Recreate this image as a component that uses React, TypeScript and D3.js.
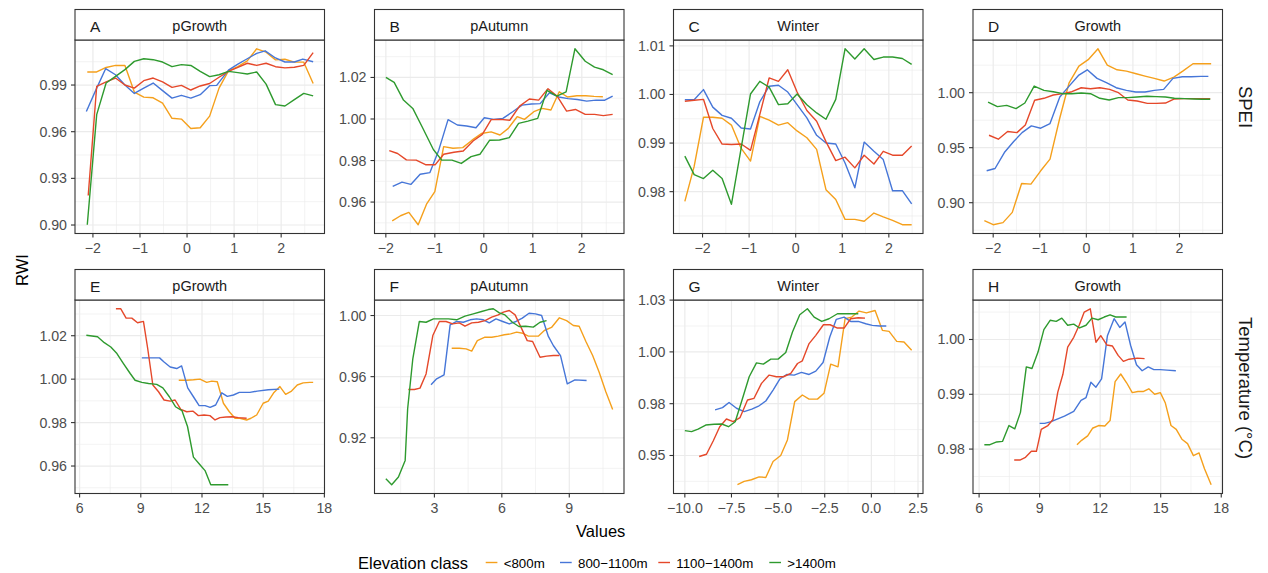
import React from 'react';
import * as d3 from 'd3';

type P = [number, number];

// ---------- legend / series ----------
const elevationClasses = ['<800m', '800\u22121100m', '1100\u22121400m', '>1400m'];
const classColors = ['#F5A01C', '#4676D8', '#E5482A', '#2E9A2E'];

// ---------- panel A : SPEI pGrowth ----------
const aLow: P[] = [[-2.12,0.9984],[-1.92,0.9984],[-1.72,1.0013],[-1.52,1.0026],[-1.32,1.0026],[-1.12,0.9855],[-0.92,0.9822],[-0.72,0.9818],[-0.52,0.9784],[-0.32,0.9686],[-0.12,0.9681],[0.08,0.9621],[0.28,0.9625],[0.48,0.970],[0.68,0.988],[0.88,0.9991],[1.08,1.0019],[1.28,1.0055],[1.48,1.0133],[1.68,1.0111],[1.88,1.0062],[2.08,1.0066],[2.28,1.0047],[2.48,1.0047],[2.68,0.991]];
const aMidLow: P[] = [[-2.14,0.973],[-1.92,0.988],[-1.73,1.0005],[-1.52,0.9966],[-1.32,0.990],[-1.12,0.9846],[-0.92,0.988],[-0.72,0.9913],[-0.52,0.9864],[-0.32,0.9816],[-0.12,0.9834],[0.08,0.9816],[0.28,0.9838],[0.48,0.9896],[0.63,0.9898],[0.88,0.9996],[1.08,1.0035],[1.28,1.0069],[1.48,1.0104],[1.66,1.012],[1.88,1.0074],[2.08,1.0048],[2.28,1.0048],[2.46,1.0067],[2.68,1.005]];
const aMidHigh: P[] = [[-2.1,0.919],[-1.92,0.9892],[-1.72,0.992],[-1.52,0.9945],[-1.32,0.990],[-1.12,0.988],[-0.92,0.9928],[-0.72,0.9945],[-0.52,0.992],[-0.32,0.9885],[-0.12,0.9898],[0.08,0.9868],[0.28,0.9894],[0.48,0.991],[0.68,0.995],[0.88,0.9988],[1.08,1.0014],[1.28,1.004],[1.48,1.0026],[1.68,1.004],[1.88,1.0018],[2.08,1.001],[2.28,1.0014],[2.48,1.0026],[2.68,1.0108]];
const aHigh: P[] = [[-2.12,0.9002],[-1.92,0.971],[-1.72,0.9913],[-1.52,0.9956],[-1.32,0.9999],[-1.12,1.0052],[-0.92,1.0069],[-0.72,1.0063],[-0.52,1.0048],[-0.32,1.0018],[-0.12,1.0031],[0.08,1.0026],[0.28,0.9988],[0.48,0.9954],[0.68,0.9966],[0.88,0.9988],[1.08,0.998],[1.28,0.9971],[1.48,0.9984],[1.68,0.9906],[1.88,0.9774],[2.08,0.9765],[2.28,0.9806],[2.48,0.9846],[2.68,0.983]];

// ---------- panel B : SPEI pAutumn ----------
const bLow: P[] = [[-1.87,0.9509],[-1.7,0.9534],[-1.53,0.955],[-1.34,0.9491],[-1.17,0.959],[-1.0,0.965],[-0.82,0.9867],[-0.63,0.9859],[-0.43,0.9862],[-0.24,0.9898],[-0.05,0.993],[0.15,0.9938],[0.33,0.9923],[0.5,0.9955],[0.68,1.0011],[0.83,0.9998],[1.02,1.0035],[1.19,1.0051],[1.37,1.0043],[1.54,1.0131],[1.71,1.0106],[1.9,1.0112],[2.08,1.0112],[2.25,1.0109],[2.43,1.0107]];
const bMidLow: P[] = [[-1.86,0.9675],[-1.67,0.9696],[-1.49,0.9685],[-1.30,0.9734],[-1.1,0.9742],[-0.92,0.985],[-0.73,0.9997],[-0.54,0.9971],[-0.35,0.9966],[-0.16,0.9958],[0.01,1.0006],[0.2,0.9998],[0.39,1.0003],[0.59,1.0035],[0.78,1.0067],[0.97,1.0072],[1.15,1.0074],[1.34,1.0126],[1.53,1.0106],[1.72,1.0098],[1.91,1.0094],[2.1,1.0086],[2.29,1.0091],[2.46,1.009],[2.63,1.011]];
const bMidHigh: P[] = [[-1.93,0.9848],[-1.76,0.9834],[-1.58,0.9803],[-1.38,0.9802],[-1.19,0.978],[-0.99,0.978],[-0.82,0.983],[-0.61,0.984],[-0.42,0.9846],[-0.22,0.9894],[-0.03,0.9926],[0.15,0.9997],[0.34,0.9998],[0.53,0.9994],[0.73,1.0062],[0.93,1.0096],[1.12,1.0091],[1.31,1.0146],[1.50,1.0109],[1.69,1.0038],[1.87,1.0046],[2.07,1.0022],[2.26,1.0022],[2.44,1.0016],[2.63,1.0022]];
const bHigh: P[] = [[-2.0,1.02],[-1.83,1.0176],[-1.64,1.0091],[-1.45,1.0051],[-1.25,0.9958],[-1.03,0.9853],[-0.86,0.9802],[-0.65,0.9802],[-0.46,0.9786],[-0.26,0.9819],[-0.08,0.983],[0.12,0.9898],[0.32,0.9899],[0.52,0.991],[0.71,0.9979],[0.90,0.999],[1.10,1.0003],[1.29,1.0138],[1.49,1.011],[1.68,1.0131],[1.86,1.0338],[2.07,1.0278],[2.26,1.025],[2.44,1.0237],[2.63,1.0214]];

// ---------- panel C : SPEI Winter ----------
const cX = [-2.38,-2.18,-1.98,-1.78,-1.58,-1.38,-1.17,-0.97,-0.77,-0.57,-0.37,-0.17,0.03,0.24,0.45,0.65,0.86,1.06,1.27,1.47,1.68,1.88,2.08,2.29,2.49];
const cLowY = [0.978,0.9852,0.9953,0.9953,0.9951,0.9937,0.9889,0.9863,0.9955,0.9947,0.9937,0.9942,0.9925,0.9911,0.9887,0.9804,0.9784,0.9743,0.9743,0.9739,0.9756,0.9748,0.9741,0.9732,0.9732];
const cMidLowY = [0.9989,0.9989,1.001,0.9974,0.9957,0.9951,0.9931,0.9929,0.9985,1.0017,1.0019,1.0005,0.9979,0.9952,0.9916,0.99,0.9898,0.9859,0.9808,0.9902,0.9883,0.9866,0.9802,0.9802,0.9775];
const cMidHighY = [0.9986,0.9988,0.999,0.993,0.9898,0.9897,0.9898,0.9885,0.9959,1.0034,1.0027,1.0051,1.0005,0.9967,0.9945,0.9903,0.9864,0.9871,0.9849,0.9875,0.9857,0.9883,0.9875,0.9875,0.9894];
const cHighY = [0.9873,0.9835,0.9827,0.9844,0.9827,0.9774,0.989,1.0001,1.0027,1.0015,0.9979,0.9981,1.0001,0.9979,0.9962,0.9949,0.999,1.0094,1.0073,1.0094,1.0072,1.0077,1.0077,1.0074,1.0062];

// ---------- panel D : SPEI Growth ----------
const dLow: P[] = [[-2.19,0.8837],[-2.0,0.880],[-1.79,0.8819],[-1.59,0.8912],[-1.39,0.9175],[-1.19,0.9169],[-0.98,0.929],[-0.78,0.9396],[-0.57,0.977],[-0.37,1.009],[-0.16,1.0242],[0.04,1.030],[0.25,1.0399],[0.45,1.0251],[0.66,1.0208],[0.86,1.0196],[1.07,1.0172],[1.26,1.0151],[1.46,1.013],[1.67,1.0106],[1.88,1.0142],[2.07,1.0196],[2.29,1.0263],[2.49,1.0263],[2.68,1.0263]];
const dMidLow: P[] = [[-2.14,0.929],[-1.96,0.9311],[-1.76,0.9456],[-1.56,0.9556],[-1.38,0.9637],[-1.18,0.9698],[-0.98,0.9677],[-0.78,0.9719],[-0.57,0.9961],[-0.37,1.006],[-0.16,1.016],[0.02,1.0208],[0.23,1.013],[0.43,1.0091],[0.64,1.0045],[0.86,1.0021],[1.06,1.0006],[1.26,1.0006],[1.46,1.0021],[1.66,1.003],[1.86,1.013],[2.06,1.0145],[2.25,1.0145],[2.46,1.0148],[2.62,1.0148]];
const dMidHigh: P[] = [[-2.09,0.9613],[-1.89,0.9577],[-1.69,0.9647],[-1.49,0.9637],[-1.31,0.9707],[-1.11,0.9931],[-0.91,0.9949],[-0.71,0.9979],[-0.5,0.9991],[-0.31,1.0009],[-0.11,1.0045],[0.09,1.0036],[0.29,1.0045],[0.5,1.003],[0.69,1.0],[0.89,0.9934],[1.09,0.9924],[1.31,0.9903],[1.5,0.9903],[1.7,0.9906],[1.89,0.9943],[2.09,0.9946],[2.3,0.9946],[2.48,0.9946],[2.66,0.9946]];
const dHigh: P[] = [[-2.11,0.9915],[-1.91,0.9873],[-1.71,0.9885],[-1.51,0.9855],[-1.32,0.9906],[-1.12,1.006],[-0.91,1.0021],[-0.71,1.0009],[-0.51,0.9991],[-0.31,0.9991],[-0.11,0.9997],[0.09,0.9991],[0.29,0.9949],[0.49,0.9934],[0.69,0.9955],[0.89,0.9955],[1.09,0.9961],[1.3,0.9967],[1.5,0.9964],[1.7,0.9961],[1.89,0.9949],[2.11,0.9946],[2.31,0.9943],[2.48,0.9941],[2.66,0.994]];

// ---------- panel E : Temperature pGrowth ----------
const eLow: P[] = [[10.86,0.9995],[11.25,0.9995],[11.58,0.9997],[11.9,1.0],[12.23,0.9985],[12.48,0.9991],[12.75,0.9988],[13.05,0.9889],[13.34,0.985],[13.62,0.982],[13.86,0.982],[14.19,0.9812],[14.4,0.982],[14.68,0.9835],[15.0,0.9889],[15.25,0.9899],[15.53,0.9939],[15.82,0.9966],[16.1,0.993],[16.39,0.9945],[16.67,0.9973],[16.96,0.9983],[17.29,0.9985],[17.45,0.9985]];
const eMidLow: P[] = [[9.05,1.0098],[9.38,1.0098],[9.92,1.0098],[10.14,1.0079],[10.44,1.0056],[10.76,1.0049],[11.0,1.0061],[11.3,0.996],[11.58,0.9919],[11.86,0.9878],[12.15,0.9878],[12.4,0.987],[12.67,0.9881],[12.97,0.9937],[13.24,0.9921],[13.54,0.9927],[13.83,0.9939],[14.35,0.9939],[14.71,0.9945],[15.25,0.9951],[15.79,0.9954]];
const eMidHigh: P[] = [[7.78,1.0324],[8.02,1.0324],[8.28,1.0281],[8.56,1.0281],[8.84,1.026],[9.13,1.0266],[9.34,1.014],[9.59,0.9973],[9.87,0.9942],[10.14,0.9904],[10.44,0.9899],[10.68,0.9904],[10.96,0.9861],[11.25,0.985],[11.55,0.9853],[11.82,0.9832],[12.1,0.9835],[12.39,0.9832],[12.64,0.9812],[12.88,0.9823],[13.18,0.9826],[13.49,0.9827],[13.78,0.9823],[14.19,0.982]];
const eHigh: P[] = [[6.33,1.0202],[6.88,1.0195],[7.21,1.0168],[7.53,1.0148],[7.83,1.0118],[8.15,1.0072],[8.48,1.0026],[8.72,0.9995],[9.05,0.9985],[9.38,0.998],[9.78,0.9976],[10.08,0.996],[10.4,0.9919],[10.7,0.9873],[11.02,0.9855],[11.29,0.9782],[11.58,0.9641],[11.9,0.9606],[12.15,0.9579],[12.43,0.9514],[12.88,0.9514],[13.29,0.9514]];

// ---------- panel F : Temperature pAutumn ----------
const fLow: P[] = [[3.77,0.9786],[4.11,0.9786],[4.41,0.9782],[4.66,0.9767],[4.91,0.9836],[5.25,0.9858],[5.55,0.9858],[5.84,0.9865],[6.11,0.9874],[6.39,0.988],[6.66,0.9891],[6.93,0.9884],[7.18,0.9865],[7.62,0.9865],[7.89,0.9902],[8.21,0.9922],[8.56,0.9985],[8.88,0.9967],[9.18,0.9935],[9.44,0.993],[9.74,0.983],[10.04,0.9738],[10.33,0.9629],[10.63,0.9499],[10.93,0.9385]];
const fMidLow: P[] = [[2.85,0.9547],[3.1,0.9586],[3.43,0.9612],[3.7,0.9939],[3.99,0.9961],[4.29,0.9956],[4.59,0.9972],[4.88,0.9978],[5.18,0.9972],[5.44,0.9952],[5.74,0.9978],[6.04,0.9961],[6.33,0.9945],[6.63,0.9961],[6.91,0.9983],[7.21,1.0015],[7.5,1.0011],[7.77,1.0],[8.07,0.9863],[8.29,0.9804],[8.61,0.9738],[8.91,0.9553],[9.25,0.9579],[9.77,0.9575]];
const fMidHigh: P[] = [[1.84,0.9516],[2.11,0.9516],[2.36,0.9525],[2.63,0.9618],[2.93,0.9869],[3.22,0.9961],[3.52,0.9961],[3.81,0.9945],[4.11,0.9952],[4.36,0.993],[4.66,0.9952],[4.96,0.9956],[5.25,0.9967],[5.55,0.9989],[5.84,1.0004],[6.07,1.0022],[6.33,1.0033],[6.59,1.0004],[6.85,0.9924],[7.13,0.9836],[7.37,0.983],[7.7,0.9727],[7.99,0.9734],[8.29,0.9738],[8.56,0.9738]];
const fHigh: P[] = [[0.84,0.8932],[1.1,0.8893],[1.4,0.8943],[1.7,0.9052],[1.81,0.939],[2.04,0.9717],[2.33,0.9961],[2.63,0.9956],[2.96,0.9978],[3.28,0.9978],[3.62,0.9978],[3.99,0.9972],[4.36,0.9996],[4.73,1.0011],[5.1,1.0026],[5.4,1.0039],[5.62,1.0044],[5.89,1.0017],[6.14,1.0004],[6.47,0.9956],[6.76,0.9928],[7.06,0.993],[7.4,0.9924],[7.7,0.9956],[7.99,0.9967]];

// ---------- panel G : Temperature Winter ----------
const gLow: P[] = [[-7.18,0.9359],[-6.82,0.9375],[-6.43,0.9383],[-6.02,0.9397],[-5.66,0.9394],[-5.27,0.9471],[-4.86,0.95],[-4.5,0.9575],[-4.11,0.976],[-3.7,0.9792],[-3.34,0.9772],[-2.89,0.9772],[-2.54,0.98],[-2.18,0.9941],[-1.79,0.9928],[-1.41,1.016],[-1.05,1.0168],[-0.66,1.0197],[-0.27,1.0188],[0.2,1.02],[0.59,1.0104],[0.95,1.0099],[1.36,1.0051],[1.75,1.0048],[2.16,1.0008]];
const gMidLow: P[] = [[-8.38,0.972],[-7.98,0.9731],[-7.63,0.9756],[-7.23,0.9728],[-6.82,0.9712],[-6.41,0.9724],[-6.02,0.974],[-5.66,0.9763],[-5.27,0.9816],[-4.91,0.9869],[-4.54,0.9891],[-4.14,0.9888],[-3.75,0.9901],[-3.34,0.9891],[-2.98,0.9907],[-2.59,0.9949],[-2.23,1.0072],[-1.88,1.0157],[-1.46,1.0168],[-1.11,1.0147],[-0.7,1.0147],[-0.3,1.0136],[0.05,1.0128],[0.45,1.0125],[0.8,1.0125]];
const gMidHigh: P[] = [[-9.23,0.9495],[-8.84,0.9506],[-8.48,0.957],[-8.13,0.9639],[-7.77,0.9676],[-7.41,0.9663],[-7.04,0.9683],[-6.64,0.9768],[-6.29,0.9776],[-5.89,0.9848],[-5.48,0.9888],[-5.09,0.988],[-4.71,0.988],[-4.32,0.9896],[-3.96,0.9944],[-3.7,0.9957],[-3.34,1.004],[-2.98,1.008],[-2.57,1.0131],[-2.21,1.0131],[-1.82,1.0115],[-1.46,1.0115],[-1.11,1.016],[-0.7,1.0165],[-0.34,1.0163]];
const gHigh: P[] = [[-10.0,0.962],[-9.64,0.9615],[-9.29,0.9627],[-8.88,0.9647],[-8.43,0.9651],[-8.02,0.9652],[-7.66,0.9639],[-7.3,0.9663],[-6.95,0.9763],[-6.55,0.988],[-6.16,0.9947],[-5.79,0.9941],[-5.39,0.9965],[-5.0,0.9965],[-4.59,0.9997],[-4.23,1.0096],[-3.84,1.0179],[-3.43,1.0208],[-3.07,1.0168],[-2.66,1.0147],[-2.27,1.016],[-1.82,1.0184],[-1.38,1.0184],[-1.02,1.0184],[-0.7,1.0184]];

// ---------- panel H : Temperature Growth ----------
const hLow: P[] = [[10.85,0.9808],[11.08,0.9816],[11.38,0.9824],[11.62,0.9838],[11.92,0.9843],[12.23,0.9842],[12.49,0.9852],[12.74,0.9923],[13.02,0.9937],[13.31,0.9921],[13.59,0.9903],[13.87,0.9905],[14.13,0.9905],[14.41,0.991],[14.7,0.99],[14.98,0.9903],[15.23,0.9884],[15.51,0.9843],[15.77,0.9836],[16.05,0.9818],[16.33,0.981],[16.62,0.9788],[16.9,0.9793],[17.17,0.9764],[17.5,0.9735]];
const hMidLow: P[] = [[9.0,0.9847],[9.25,0.9847],[9.57,0.985],[9.9,0.9855],[10.23,0.986],[10.69,0.9869],[11.05,0.9889],[11.3,0.9894],[11.54,0.9922],[11.79,0.9913],[12.07,0.9928],[12.36,1.0007],[12.69,1.0038],[12.97,1.0022],[13.23,1.0032],[13.51,0.9989],[13.8,0.9954],[14.08,0.9943],[14.38,0.995],[14.66,0.9945],[14.98,0.9945],[15.31,0.9944],[15.75,0.9943]];
const hMidHigh: P[] = [[7.74,0.978],[8.02,0.978],[8.3,0.9785],[8.59,0.9796],[8.84,0.9796],[9.08,0.9836],[9.41,0.9843],[9.66,0.9854],[9.9,0.9904],[10.15,0.9936],[10.39,0.9986],[10.69,1.0004],[10.97,1.0027],[11.21,1.005],[11.51,1.0056],[11.79,0.9995],[12.03,1.0007],[12.33,0.999],[12.61,0.9988],[12.89,0.9971],[13.15,0.996],[13.43,0.9964],[13.84,0.9966],[14.2,0.9965]];
const hHigh: P[] = [[6.26,0.9808],[6.54,0.9808],[6.87,0.9813],[7.16,0.9814],[7.48,0.9843],[7.77,0.9837],[8.05,0.9867],[8.34,0.995],[8.62,0.9947],[8.92,0.9977],[9.21,1.0018],[9.52,1.0035],[9.82,1.0033],[10.1,1.0039],[10.39,1.0026],[10.69,1.0028],[10.98,1.0021],[11.3,1.0026],[11.59,1.0039],[11.9,1.0036],[12.2,1.0041],[12.49,1.0045],[12.77,1.0041],[13.31,1.0041]];

// ---------- facets / ticks ----------
const panelLetters = ['A', 'B', 'C', 'D', 'E', 'F', 'G', 'H'];
const panelTitles = ['pGrowth', 'pAutumn', 'Winter', 'Growth', 'pGrowth', 'pAutumn', 'Winter', 'Growth'];
const rowLabels = ['SPEI', 'Temperature (\u00B0C)'];
const speiTicksX = [-2, -1, 0, 1, 2];
const xTicksE = [6, 9, 12, 15, 18];
const xTicksF = [3, 6, 9];
const xTicksG = [-10, -7.5, -5, -2.5, 0, 2.5];
const xTicksH = [6, 9, 12, 15, 18];
const yTicksA = [0.90, 0.93, 0.96, 0.99];
const yTicksB = [0.96, 0.98, 1.00, 1.02];
const yTicksC = [0.98, 0.99, 1.00, 1.01];
const yTicksD = [0.90, 0.95, 1.00];
const yTicksE = [0.96, 0.98, 1.00, 1.02];
const yTicksF = [0.92, 0.96, 1.00];
const yTicksG = [0.95, 0.975, 1.0, 1.025];
const yTickLabelsG = ['0.95', '0.98', '1.00', '1.03'];
const yTicksH = [0.98, 0.99, 1.00];
const xAxisTitle = 'Values';
const yAxisTitle = 'RWI';
const legendTitle = 'Elevation class';

const zipXY = (xs: number[], ys: number[]): P[] => xs.map((x, i) => [x, ys[i]] as P);

const panelSeries: P[][][] = [
  [aLow, aMidLow, aMidHigh, aHigh],
  [bLow, bMidLow, bMidHigh, bHigh],
  [zipXY(cX, cLowY), zipXY(cX, cMidLowY), zipXY(cX, cMidHighY), zipXY(cX, cHighY)],
  [dLow, dMidLow, dMidHigh, dHigh],
  [eLow, eMidLow, eMidHigh, eHigh],
  [fLow, fMidLow, fMidHigh, fHigh],
  [gLow, gMidLow, gMidHigh, gHigh],
  [hLow, hMidLow, hMidHigh, hHigh],
];
const panelXTicks = [speiTicksX, speiTicksX, speiTicksX, speiTicksX, xTicksE, xTicksF, xTicksG, xTicksH];
const panelXDec = [0, 0, 0, 0, 0, 0, 1, 0];
const panelYTicks = [yTicksA, yTicksB, yTicksC, yTicksD, yTicksE, yTicksF, yTicksG, yTicksH];
const panelYLabels: (string[] | null)[] = [null, null, null, null, null, null, yTickLabelsG, null];

// ---------- layout ----------
const W = 1268, H = 573;
const colLeft = [75, 374.5, 673.5, 973];
const panelW = 249.5;
const stripTop = [9.5, 269.5];
const stripH = 30.5;
const plotH = 193.5;
const FONT = '"Liberation Sans", Arial, Helvetica, sans-serif';
const DARK = '#333333';
const TICKCOL = '#4D4D4D';
const GRID = '#EBEBEB';

const fmt = (v: number, dec: number) => (v < 0 ? '\u2212' : '') + Math.abs(v).toFixed(dec);
const expand = (e: [number, number]): [number, number] => {
  const d = (e[1] - e[0]) * 0.05;
  return [e[0] - d, e[1] + d];
};
const minorOf = (major: number[], dom: [number, number]) => {
  const step = major[1] - major[0];
  const out: number[] = [];
  for (let i = -1; i < major.length; i++) {
    const m = major[0] + (i + 0.5) * step;
    if (m >= dom[0] && m <= dom[1]) out.push(m);
  }
  return out;
};

function Panel({ idx }: { idx: number }) {
  const row = Math.floor(idx / 4);
  const col = idx % 4;
  const left = colLeft[col];
  const sTop = stripTop[row];
  const top = sTop + stripH;
  const bottom = top + plotH;
  const series = panelSeries[idx];
  const all = series.flat();
  const xDom = expand(d3.extent(all, (p) => p[0]) as [number, number]);
  const yDom = expand(d3.extent(all, (p) => p[1]) as [number, number]);
  const x = d3.scaleLinear().domain(xDom).range([left, left + panelW]);
  const y = d3.scaleLinear().domain(yDom).range([bottom, top]);
  const xt = panelXTicks[idx].filter((t) => t >= xDom[0] && t <= xDom[1]);
  const ytAll = panelYTicks[idx];
  const yt = ytAll.filter((t) => t >= yDom[0] && t <= yDom[1]);
  const xMinor = minorOf(panelXTicks[idx], xDom);
  const yMinor = minorOf(ytAll, yDom);
  const line = d3.line<P>().x((p) => x(p[0])).y((p) => y(p[1]));
  const yLab = (t: number) => {
    const lbl = panelYLabels[idx];
    return lbl ? lbl[ytAll.indexOf(t)] : fmt(t, 2);
  };
  return (
    <g>
      {xMinor.map((t) => (
        <line key={'xm' + t} x1={x(t)} x2={x(t)} y1={top} y2={bottom} stroke={GRID} strokeWidth={0.6} />
      ))}
      {yMinor.map((t) => (
        <line key={'ym' + t} x1={left} x2={left + panelW} y1={y(t)} y2={y(t)} stroke={GRID} strokeWidth={0.6} />
      ))}
      {xt.map((t) => (
        <line key={'xg' + t} x1={x(t)} x2={x(t)} y1={top} y2={bottom} stroke={GRID} strokeWidth={1.2} />
      ))}
      {yt.map((t) => (
        <line key={'yg' + t} x1={left} x2={left + panelW} y1={y(t)} y2={y(t)} stroke={GRID} strokeWidth={1.2} />
      ))}
      {series.map((s, i) => (
        <path key={'s' + i} d={line(s) || ''} fill="none" stroke={classColors[i]} strokeWidth={1.4} strokeLinejoin="round" />
      ))}
      <rect x={left} y={top} width={panelW} height={plotH} fill="none" stroke={DARK} strokeWidth={1.1} />
      <rect x={left} y={sTop} width={panelW} height={stripH} fill="#FFFFFF" stroke={DARK} strokeWidth={1.1} />
      <text x={left + 15} y={sTop + 22} fontSize={15.5} fill="#1A1A1A" fontFamily={FONT}>{panelLetters[idx]}</text>
      <text x={left + panelW / 2} y={sTop + 21.5} fontSize={14.5} fill="#1A1A1A" fontFamily={FONT} textAnchor="middle">{panelTitles[idx]}</text>
      {xt.map((t) => (
        <g key={'xt' + t}>
          <line x1={x(t)} x2={x(t)} y1={bottom} y2={bottom + 4} stroke={DARK} strokeWidth={1.1} />
          <text x={x(t)} y={bottom + 19.5} fontSize={14.2} fill={TICKCOL} fontFamily={FONT} textAnchor="middle">{fmt(t, panelXDec[idx])}</text>
        </g>
      ))}
      {yt.map((t) => (
        <g key={'yt' + t}>
          <line x1={left - 4} x2={left} y1={y(t)} y2={y(t)} stroke={DARK} strokeWidth={1.1} />
          <text x={left - 8} y={y(t) + 5} fontSize={14.2} fill={TICKCOL} fontFamily={FONT} textAnchor="end">{yLab(t)}</text>
        </g>
      ))}
    </g>
  );
}

const legendKeyX = [485.7, 560, 658.3, 769.3];

export default function App() {
  return (
    <svg width={W} height={H} style={{ position: 'absolute', left: 0, top: 0, background: '#FFFFFF' }} fontFamily={FONT}>
      <rect x={0} y={0} width={W} height={H} fill="#FFFFFF" />
      {panelLetters.map((_, i) => (
        <Panel key={i} idx={i} />
      ))}
      {rowLabels.map((lbl, r) => (
        <text key={lbl} transform={`translate(1245, ${r === 0 ? 107 : 388}) rotate(90)`} fontSize={18.5} fill="#1A1A1A" textAnchor="middle" dominantBaseline="central">{lbl}</text>
      ))}
      <text transform="translate(22, 270) rotate(-90)" fontSize={16.5} fill="#000" textAnchor="middle" dominantBaseline="central">{yAxisTitle}</text>
      <text x={600.7} y={536.5} fontSize={16.5} fill="#000" textAnchor="middle">{xAxisTitle}</text>
      <text x={358} y={568.5} fontSize={16.5} fill="#000">{legendTitle}</text>
      {elevationClasses.map((c, i) => (
        <g key={c}>
          <line x1={legendKeyX[i]} x2={legendKeyX[i] + 11.7} y1={562.5} y2={562.5} stroke={classColors[i]} strokeWidth={1.4} />
          <text x={legendKeyX[i] + 18} y={567.5} fontSize={13.3} fill="#000">{c}</text>
        </g>
      ))}
    </svg>
  );
}
